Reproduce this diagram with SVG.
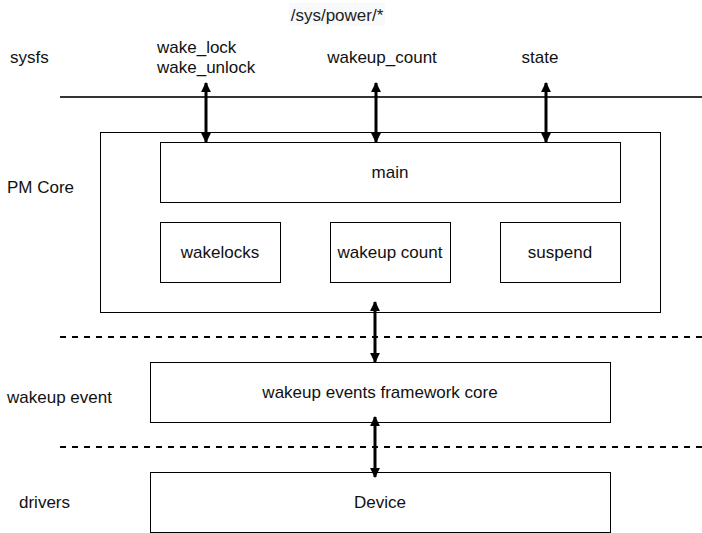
<svg xmlns="http://www.w3.org/2000/svg" width="702" height="533" viewBox="0 0 702 533">
<defs>
<style>
text{font-family:"Liberation Sans",Arial,sans-serif;font-size:17px;fill:#111}
.box{fill:#fff;stroke:#000;stroke-width:1}
.arr{stroke:#000;stroke-width:3;fill:none}
.dash{stroke:#000;stroke-width:2;stroke-dasharray:6,6}
.c{text-anchor:middle}
</style>
<marker id="ah" viewBox="0 0 10 10" refX="9" refY="5" markerWidth="3.3" markerHeight="3.3" orient="auto-start-reverse" markerUnits="strokeWidth">
<path d="M0,0 L10,5 L0,10 z" fill="#000"/>
</marker>
</defs>
<rect width="702" height="533" fill="#fff"/>
<g id="layers">
<line x1="60" y1="97" x2="702" y2="97" stroke="#333" stroke-width="2"/>
<line class="dash" x1="60" y1="337" x2="702" y2="337"/>
<line class="dash" x1="60" y1="447" x2="702" y2="447"/>
<rect x="289" y="3" width="96" height="23" fill="#f8f9fa"/>
<text class="c" x="337" y="21" style="fill:#222">/sys/power/*</text>
<text x="10" y="63">sysfs</text>
<text x="7" y="193">PM Core</text>
<text x="7" y="403">wakeup event</text>
<text x="19" y="508">drivers</text>
<text x="157" y="53">wake_lock</text>
<text x="157" y="73">wake_unlock</text>
<text class="c" x="382" y="63">wakeup_count</text>
<text class="c" x="540" y="63">state</text>
</g>
<g id="pmcore"><rect class="box" x="100.5" y="132.5" width="560" height="180"/></g>
<g id="main"><rect class="box" x="160.5" y="142.5" width="460" height="60"/><text class="c" x="390" y="178">main</text></g>
<g id="wakelocks"><rect class="box" x="160.5" y="222.5" width="120" height="60"/><text class="c" x="220" y="258">wakelocks</text></g>
<g id="wakeupcount"><rect class="box" x="330.5" y="222.5" width="120" height="60"/><text class="c" x="390" y="258">wakeup count</text></g>
<g id="suspend"><rect class="box" x="500.5" y="222.5" width="120" height="60"/><text class="c" x="560" y="258">suspend</text></g>
<g id="framework"><rect class="box" x="150.5" y="362.5" width="460" height="60"/><text class="c" x="380" y="398">wakeup events framework core</text></g>
<g id="device"><rect class="box" x="150.5" y="472.5" width="460" height="60"/><text class="c" x="380" y="508">Device</text></g>
<g id="connectors">
<line class="arr" x1="206" y1="83" x2="206" y2="142" marker-start="url(#ah)" marker-end="url(#ah)"/>
<line class="arr" x1="376" y1="83" x2="376" y2="142" marker-start="url(#ah)" marker-end="url(#ah)"/>
<line class="arr" x1="546" y1="83" x2="546" y2="142" marker-start="url(#ah)" marker-end="url(#ah)"/>
<line class="arr" x1="375" y1="302" x2="375" y2="362" marker-start="url(#ah)" marker-end="url(#ah)"/>
<line class="arr" x1="375" y1="417" x2="375" y2="477" marker-start="url(#ah)" marker-end="url(#ah)"/>
</g>
</svg>
